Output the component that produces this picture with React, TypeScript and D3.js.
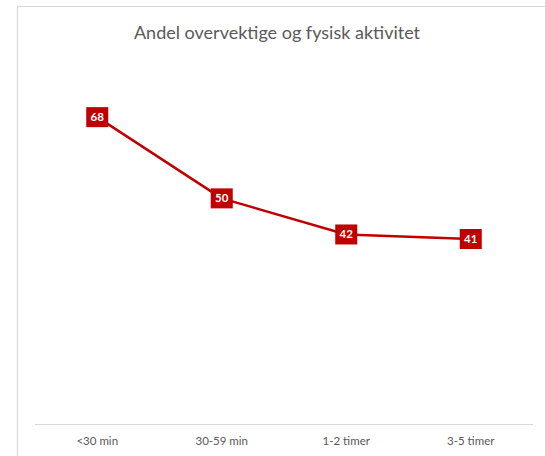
import React from "react";
import * as d3 from "d3";

const categories = ["<30 min", "30-59 min", "1-2 timer", "3-5 timer"];
const values = [68, 50, 42, 41];
const title = "Andel overvektige og fysisk aktivitet";

const W = 545;
const H = 456;
const RED = "#C00000";
const FONT = "Lato, 'Open Sans', 'Liberation Sans', sans-serif";

export default function App() {
  const x = d3.scaleBand<string>().domain(categories).range([35, 533]);
  const y = d3.scaleLinear().domain([0, 80]).range([424, 63]);
  const cx = (c: string) => (x(c) ?? 0) + x.bandwidth() / 2;
  const pts: [number, number][] = categories.map((c, i) => [cx(c), y(values[i])]);
  const line = d3.line<[number, number]>()(pts) ?? "";

  return (
    <svg
      width={W}
      height={H}
      style={{ position: "fixed", left: 0, top: 0, background: "#fff" }}
    >
      <rect x={0} y={0} width={W} height={H} fill="#fff" />
      <path d={`M17.5,${H} L17.5,6.5 L${W},6.5`} fill="none" stroke="#D9D9D9" strokeWidth={1.2} />
      <text
        x={277}
        y={39}
        textAnchor="middle"
        fontFamily={FONT}
        fontSize={18}
        fill="#595959"
      >
        {title}
      </text>
      <line x1={35} x2={533} y1={424.5} y2={424.5} stroke="#D9D9D9" strokeWidth={1} />
      {categories.map((c) => (
        <text
          key={c}
          x={cx(c)}
          y={445}
          textAnchor="middle"
          fontFamily={FONT}
          fontSize={11.5}
          fill="#595959"
        >
          {c}
        </text>
      ))}
      <path d={line} fill="none" stroke={RED} strokeWidth={2.5} strokeLinejoin="round" />
      {categories.map((c, i) => (
        <g key={c} transform={`translate(${cx(c)},${y(values[i])})`}>
          <rect x={-11} y={-10} width={22} height={20} fill={RED} />
          <text
            x={0}
            y={4}
            textAnchor="middle"
            fontFamily={FONT}
            fontSize={11.5}
            fontWeight={700}
            fill="#fff"
          >
            {values[i]}
          </text>
        </g>
      ))}
    </svg>
  );
}
